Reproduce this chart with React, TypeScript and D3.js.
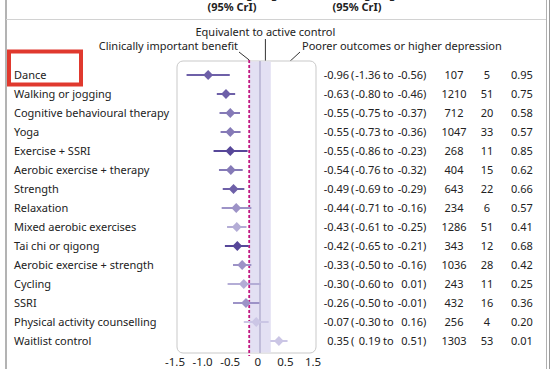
import React from "react";
import * as d3 from "d3";

// treatments, top to bottom
const treatments = [
  "Dance",
  "Walking or jogging",
  "Cognitive behavioural therapy",
  "Yoga",
  "Exercise + SSRI",
  "Aerobic exercise + therapy",
  "Strength",
  "Relaxation",
  "Mixed aerobic exercises",
  "Tai chi or qigong",
  "Aerobic exercise + strength",
  "Cycling",
  "SSRI",
  "Physical activity counselling",
  "Waitlist control",
];
const effects = [-0.96, -0.63, -0.55, -0.55, -0.55, -0.54, -0.49, -0.44, -0.43, -0.42, -0.33, -0.3, -0.26, -0.07, 0.35];
const lowers = [-1.36, -0.8, -0.75, -0.73, -0.86, -0.76, -0.69, -0.71, -0.61, -0.65, -0.5, -0.6, -0.5, -0.3, 0.19];
const uppers = [-0.56, -0.46, -0.37, -0.36, -0.23, -0.32, -0.29, -0.16, -0.25, -0.21, -0.16, 0.01, -0.01, 0.16, 0.51];
const participants = [107, 1210, 712, 1047, 268, 404, 643, 234, 1286, 343, 1036, 243, 432, 256, 1303];
const trials = [5, 51, 20, 33, 11, 15, 22, 6, 51, 12, 28, 11, 16, 4, 53];
const sucra = [0.95, 0.75, 0.58, 0.57, 0.85, 0.62, 0.66, 0.57, 0.41, 0.68, 0.42, 0.25, 0.36, 0.2, 0.01];
// certainty level, drives marker shade
const certainty = [4, 4, 3, 3, 5, 3, 4, 2, 1, 5, 2, 1, 2, 0, 0];
const tickLabels = ["-1.5", "-1.0", "-0.5", "0", "0.5", "1.5"];
const mcid = -0.2; // clinically important benefit
const equivBand = [-0.2, 0.2];

const W = 554;
const H = 369;
const FONT = "'Noto Sans', sans-serif";

const fmt = (v: number) => v.toFixed(2);

export default function App() {
  const x = d3.scaleLinear().domain([-1.5, 1]).range([179, 314]);
  const y = d3.scalePoint<string>().domain(treatments).range([75, 341]);
  const tickX = d3.scalePoint<string>().domain(tickLabels).range([175, 313]);
  const shadeColor = d3
    .scaleLinear<string>()
    .domain([0, 5])
    .range(["#cbc6e5", "#574799"])
    .interpolate(d3.interpolateRgb);
  const diamond = d3.symbol().type(d3.symbolSquare).size(48)();

  const panelTop = 61;
  const panelBottom = 353;

  const rows = treatments.map((t, i) => ({
    t,
    est: effects[i],
    lo: lowers[i],
    hi: uppers[i],
    n: participants[i],
    k: trials[i],
    s: sucra[i],
    c: certainty[i],
  }));

  return (
    <svg
      width={W}
      height={H}
      style={{ position: "absolute", left: 0, top: 0, background: "#fff" }}
      fontFamily={FONT}
    >
      {/* frame */}
      <line x1={6} x2={6} y1={0} y2={H} stroke="#9a9a9a" strokeWidth={1.5} />
      <line x1={546.5} x2={546.5} y1={0} y2={H} stroke="#b0b0b0" />
      <line x1={549.5} x2={549.5} y1={0} y2={H} stroke="#9a9a9a" />
      <line x1={6} x2={546} y1={19.5} y2={19.5} stroke="#d2d2d2" />

      {/* clipped header */}
      <g fontSize={11} fontWeight={700} fill="#222">
        <text x={278} y={-2.5} textAnchor="end">Hedges' g</text>
        <text x={396} y={-2.5} textAnchor="end">Hedges' g</text>
        <text x={232} y={11} textAnchor="middle">(95% CrI)</text>
        <text x={357} y={11} textAnchor="middle">(95% CrI)</text>
      </g>

      {/* annotations */}
      <g fontSize={11} fill="#222">
        <text x={x(0.1)} y={36} textAnchor="middle">Equivalent to active control</text>
        <text x={238} y={50} textAnchor="end">Clinically important benefit</text>
        <text x={302} y={50}>Poorer outcomes or higher depression</text>
      </g>
      <g stroke="#333" strokeWidth={1}>
        <line x1={x(0.1)} x2={x(0.1)} y1={39} y2={65} />
        <line x1={239} x2={x(mcid)} y1={52} y2={60} />
        <line x1={300} x2={x(0.5)} y1={52} y2={64} />
      </g>
      <circle cx={x(0.1)} cy={65} r={1.4} fill="#333" />
      <circle cx={x(0.5)} cy={64} r={1.4} fill="#333" />

      {/* panel */}
      <rect
        x={177}
        y={panelTop}
        width={139}
        height={panelBottom - panelTop}
        rx={6}
        fill="#fff"
        stroke="#c9c9c9"
      />
      <rect
        x={x(equivBand[0])}
        y={panelTop + 0.5}
        width={x(equivBand[1]) - x(equivBand[0])}
        height={panelBottom - panelTop - 1}
        fill="#e3e0f3"
      />
      <line x1={x(0)} x2={x(0)} y1={panelTop} y2={panelBottom} stroke="#aaa5c9" strokeWidth={1.2} />
      <line
        x1={x(mcid)}
        x2={x(mcid)}
        y1={panelTop - 1}
        y2={panelBottom + 3}
        stroke="#c2187f"
        strokeWidth={1.8}
        strokeDasharray="3 2"
      />

      {/* intervals and estimates */}
      {rows.map((r) => (
        <g key={r.t}>
          <line
            x1={x(r.lo)}
            x2={x(r.hi)}
            y1={y(r.t)}
            y2={y(r.t)}
            stroke={shadeColor(r.c)}
            strokeWidth={2}
          />
          <path
            d={diamond!}
            transform={`translate(${x(r.est)},${y(r.t)}) rotate(45)`}
            fill={shadeColor(r.c)}
          />
        </g>
      ))}

      {/* tick labels */}
      <g fontSize={11.5} fill="#222" textAnchor="middle">
        {tickLabels.map((l) => (
          <text key={l} x={tickX(l)} y={366}>{l}</text>
        ))}
      </g>

      {/* row labels and table */}
      <g fontSize={11} fill="#222">
        {rows.map((r) => {
          const yy = (y(r.t) ?? 0) + 4;
          return (
            <g key={r.t}>
              <text x={14} y={yy}>{r.t}</text>
              <text x={349} y={yy} textAnchor="end">{fmt(r.est)}</text>
              <text x={351} y={yy}>(</text>
              <text x={380.5} y={yy} textAnchor="end">{fmt(r.lo)}</text>
              <text x={383} y={yy}>to</text>
              <text x={423} y={yy} textAnchor="end">{fmt(r.hi)}</text>
              <text x={423} y={yy}>)</text>
              <text x={454} y={yy} textAnchor="middle">{r.n}</text>
              <text x={487} y={yy} textAnchor="middle">{r.k}</text>
              <text x={522} y={yy} textAnchor="middle">{fmt(r.s)}</text>
            </g>
          );
        })}
      </g>

      {/* highlight box */}
      <rect x={9} y={51.5} width={72} height={33} fill="none" stroke="#e0392e" strokeWidth={4} />
    </svg>
  );
}
